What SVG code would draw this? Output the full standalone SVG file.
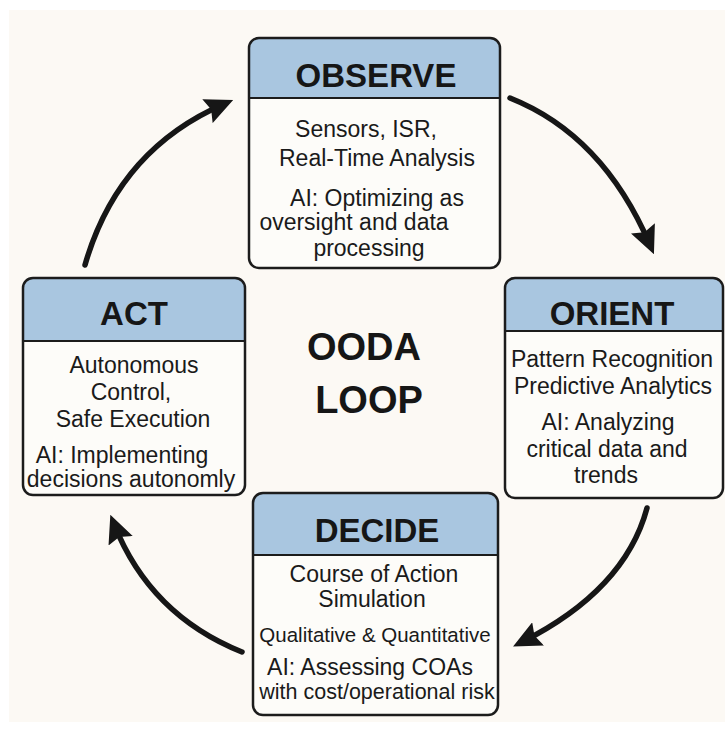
<svg xmlns="http://www.w3.org/2000/svg" width="725" height="731" viewBox="0 0 725 731">
  <style>
    .panel { fill: #fdfcf9; }
    .head { fill: #a9c6e0; }
    .frame { fill: none; stroke: #1c1c1c; stroke-width: 2.5; }
    .rule { stroke: #1c1c1c; stroke-width: 2.2; }
    .title { font-family: "Liberation Sans", Arial, sans-serif; font-weight: bold; font-size: 33px; fill: #161616; text-anchor: middle; }
    .body { font-family: "Liberation Sans", Arial, sans-serif; font-size: 23px; fill: #1a1a1a; text-anchor: middle; }
    .small { font-size: 20.5px; }
    .mid { font-size: 21.5px; }
    .center { font-family: "Liberation Sans", Arial, sans-serif; font-weight: bold; font-size: 38px; fill: #161616; text-anchor: middle; }
    .flow { fill: none; stroke: #161616; stroke-width: 5.5; stroke-linecap: round; }
  </style>
  <defs>
    <marker id="head" viewBox="0 0 28 26" refX="18" refY="13" markerWidth="28" markerHeight="26" markerUnits="userSpaceOnUse" orient="auto">
      <path d="M0,0 L28,13 L0,26 L4,13 Z" fill="#161616"/>
    </marker>
  </defs>

  <!-- page -->
  <rect x="0" y="0" width="725" height="731" fill="#ffffff"/>
  <rect x="9" y="10" width="716" height="712" fill="#fcf9f4"/>

  <!-- cycle arrows -->
  <g id="connectors">
    <path class="flow" d="M510,98 Q603,135 650,245" marker-end="url(#head)"/>
    <path class="flow" d="M647,508 Q625,590 522,642" marker-end="url(#head)"/>
    <path class="flow" d="M242,652 Q150,615 114,524" marker-end="url(#head)"/>
    <path class="flow" d="M85,265 Q118,150 224,104" marker-end="url(#head)"/>
  </g>

  <!-- OBSERVE -->
  <g id="observe">
    <rect class="panel" x="249" y="38" width="251" height="230" rx="10"/>
    <path class="head" d="M249,98 V48 A10,10 0 0 1 259,38 H490 A10,10 0 0 1 500,48 V98 Z"/>
    <line class="rule" x1="249" y1="98" x2="500" y2="98"/>
    <rect class="frame" x="249" y="38" width="251" height="230" rx="10"/>
    <text class="title" x="376" y="87">OBSERVE</text>
    <text class="body" x="366" y="137">Sensors, ISR,</text>
    <text class="body" x="377" y="166">Real-Time Analysis</text>
    <text class="body" x="377" y="206">AI: Optimizing as</text>
    <text class="body" x="354" y="230">oversight and data</text>
    <text class="body" x="369" y="256">processing</text>
  </g>

  <!-- ORIENT -->
  <g id="orient">
    <rect class="panel" x="505" y="278" width="218" height="220" rx="10"/>
    <path class="head" d="M505,331 V288 A10,10 0 0 1 515,278 H713 A10,10 0 0 1 723,288 V331 Z"/>
    <line class="rule" x1="505" y1="331" x2="723" y2="331"/>
    <rect class="frame" x="505" y="278" width="218" height="220" rx="10"/>
    <text class="title" x="612" y="325">ORIENT</text>
    <text class="body" x="612" y="367">Pattern Recognition</text>
    <text class="body" x="613" y="394">Predictive Analytics</text>
    <text class="body" x="608" y="430">AI: Analyzing</text>
    <text class="body" x="607" y="457">critical data and</text>
    <text class="body" x="606" y="483">trends</text>
  </g>

  <!-- ACT -->
  <g id="act">
    <rect class="panel" x="23" y="278" width="222" height="217" rx="10"/>
    <path class="head" d="M23,341 V288 A10,10 0 0 1 33,278 H235 A10,10 0 0 1 245,288 V341 Z"/>
    <line class="rule" x1="23" y1="341" x2="245" y2="341"/>
    <rect class="frame" x="23" y="278" width="222" height="217" rx="10"/>
    <text class="title" x="134" y="325">ACT</text>
    <text class="body" x="134" y="373">Autonomous</text>
    <text class="body" x="131" y="400">Control,</text>
    <text class="body" x="133" y="427">Safe Execution</text>
    <text class="body" x="122" y="463">AI: Implementing</text>
    <text class="body" x="131" y="487">decisions autonomly</text>
  </g>

  <!-- DECIDE -->
  <g id="decide">
    <rect class="panel" x="253" y="493" width="245" height="222" rx="10"/>
    <path class="head" d="M253,555 V503 A10,10 0 0 1 263,493 H488 A10,10 0 0 1 498,503 V555 Z"/>
    <line class="rule" x1="253" y1="555" x2="498" y2="555"/>
    <rect class="frame" x="253" y="493" width="245" height="222" rx="10"/>
    <text class="title" x="377" y="542">DECIDE</text>
    <text class="body" x="374" y="582">Course of Action</text>
    <text class="body" x="372" y="607">Simulation</text>
    <text class="body small" x="375" y="642">Qualitative &amp; Quantitative</text>
    <text class="body" x="370" y="675">AI: Assessing COAs</text>
    <text class="body mid" x="377" y="699">with cost/operational risk</text>
  </g>

  <!-- central label -->
  <g id="ooda-loop">
    <text class="center" x="364" y="360">OODA</text>
    <text class="center" x="369" y="413">LOOP</text>
  </g>
</svg>
